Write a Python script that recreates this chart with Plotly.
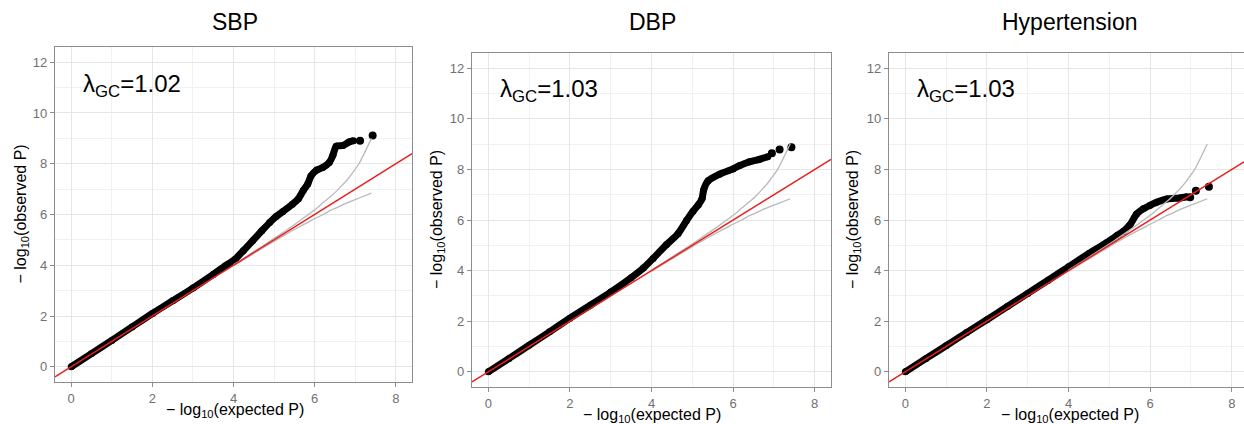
import plotly.graph_objects as go

# ---------------- data ----------------
PANEL_TITLES = ["SBP", "DBP", "Hypertension"]
LAMBDA_GC = ["1.02", "1.03", "1.03"]

SBP_EXP = [0, 0.5, 1, 1.5, 2, 2.5, 3, 3.5, 3.8, 4.05, 4.24, 4.48, 4.7, 4.89, 5.05, 5.22, 5.45, 5.6,
           5.72, 5.83, 5.91, 6.05, 6.2, 6.36, 6.45, 6.53, 6.7, 6.85, 6.96]
SBP_OBS = [0, 0.52, 1.04, 1.57, 2.1, 2.6, 3.1, 3.64, 3.98, 4.25, 4.57, 4.98, 5.36, 5.68, 5.92, 6.12,
           6.4, 6.62, 6.95, 7.2, 7.52, 7.75, 7.85, 8.05, 8.33, 8.69, 8.72, 8.86, 8.91]
SBP_TOP_EXP = [7.12, 7.43]
SBP_TOP_OBS = [8.91, 9.11]

DBP_EXP = [0, 0.5, 1, 1.5, 2, 2.5, 3, 3.5, 3.8, 4.04, 4.37, 4.65, 4.86, 5.02, 5.15, 5.24,
           5.28, 5.39, 5.67, 6.0, 6.16, 6.4, 6.65, 6.85]
DBP_OBS = [0, 0.52, 1.05, 1.58, 2.12, 2.63, 3.15, 3.72, 4.1, 4.48, 5.03, 5.46, 5.98, 6.35, 6.6, 6.85,
           7.2, 7.55, 7.81, 8.02, 8.15, 8.3, 8.4, 8.5]
DBP_TOP_EXP = [6.95, 7.14, 7.43]
DBP_TOP_OBS = [8.64, 8.79, 8.88]

HTN_EXP = [0, 0.5, 1, 1.5, 2, 2.5, 3, 3.5, 4, 4.5, 4.93, 5.2, 5.34, 5.5, 5.67, 5.83, 6.0,
           6.16, 6.41, 6.73, 6.9]
HTN_OBS = [0, 0.52, 1.03, 1.55, 2.06, 2.58, 3.1, 3.62, 4.15, 4.68, 5.1, 5.4, 5.55, 5.8, 6.24,
           6.44, 6.58, 6.70, 6.83, 6.87, 6.92]
HTN_TOP_EXP = [6.98, 7.12, 7.44]
HTN_TOP_OBS = [6.90, 7.16, 7.31]

# 95% confidence band (same in every panel)
CI_EXP = [4.0, 4.4, 4.7, 5.1, 5.4, 5.7, 5.92, 6.1, 6.22, 6.4, 6.56, 6.7, 6.8, 6.92, 7.1, 7.4]
CI_UPPER = [4.02, 4.43, 4.74, 5.16, 5.49, 5.83, 6.09, 6.31, 6.48, 6.72, 6.95, 7.19, 7.36, 7.61, 8.02, 9.0]
CI_LOWER = [3.98, 4.37, 4.66, 5.04, 5.32, 5.58, 5.77, 5.91, 6.01, 6.17, 6.28, 6.39, 6.46, 6.54, 6.65, 6.84]

X_TICKS = [0, 2, 4, 6, 8]
Y_TICKS = [0, 2, 4, 6, 8, 10, 12]

PANELS = [
    (SBP_EXP, SBP_OBS, SBP_TOP_EXP, SBP_TOP_OBS),
    (DBP_EXP, DBP_OBS, DBP_TOP_EXP, DBP_TOP_OBS),
    (HTN_EXP, HTN_OBS, HTN_TOP_EXP, HTN_TOP_OBS),
]

# ---------------- layout geometry ----------------
W, H = 1244, 424
FONT = "Liberation Sans, Arial, sans-serif"
# pixel boxes of the panels: (left, right, top, bottom)
BOXES = [(55, 412, 47, 382), (472, 831, 53, 387), (889, 1244, 53, 387)]
X_RANGES = [[-0.4, 8.4], [-0.4, 8.4], [-0.4, 8.3]]
Y_RANGE = [-0.6, 12.6]
TITLE_CX = [235, 652, 1070]
XTITLE_Y = [410, 415, 415]
YTITLE_X = [21, 437, 853]

BORDER = "#8c8c8c"
fig = go.Figure()
layout = dict(width=W, height=H, margin=dict(l=0, r=0, t=0, b=0),
              paper_bgcolor="white", plot_bgcolor="white", showlegend=False,
              font=dict(family=FONT))
annotations = []

for i, (ex, ob, tex, tob) in enumerate(PANELS):
    n = "" if i == 0 else str(i + 1)
    xa, ya = "x" + n, "y" + n
    l, r, t, b = BOXES[i]
    common = dict(showgrid=True, gridcolor="#e6e6e6", gridwidth=1.1, zeroline=False,
                  showline=True, linecolor=BORDER, linewidth=1.3,
                  ticks="outside", ticklen=4, tickcolor=BORDER, tickwidth=1.2,
                  tickfont=dict(size=13, color="#707070", family=FONT),
                  minor=dict(dtick=1, tick0=0, showgrid=True, gridcolor="#f1f1f1", gridwidth=0.8),
                  fixedrange=True)
    layout["xaxis" + n] = dict(common, domain=[l / W, r / W], range=X_RANGES[i],
                               tickvals=X_TICKS, dtick=2, tick0=0, anchor=ya, mirror=True)
    layout["yaxis" + n] = dict(common, domain=[1 - b / H, 1 - t / H], range=Y_RANGE,
                               tickvals=Y_TICKS, dtick=2, tick0=0, anchor=xa,
                               mirror=(i < 2))

    # observed points (dense part drawn as a thick band of points)
    fig.add_trace(go.Scatter(x=ex, y=ob, mode="lines+markers", xaxis=xa, yaxis=ya,
                             line=dict(color="black", width=7, shape="spline", smoothing=0.6),
                             marker=dict(color="black", size=7), hoverinfo="skip"))
    fig.add_trace(go.Scatter(x=tex, y=tob, mode="markers", xaxis=xa, yaxis=ya,
                             marker=dict(color="black", size=8), hoverinfo="skip"))
    # confidence curves
    fig.add_trace(go.Scatter(x=CI_EXP, y=CI_UPPER, mode="lines", xaxis=xa, yaxis=ya,
                             line=dict(color="#b9b9b9", width=1.3, shape="spline", smoothing=0.5),
                             hoverinfo="skip"))
    fig.add_trace(go.Scatter(x=CI_EXP, y=CI_LOWER, mode="lines", xaxis=xa, yaxis=ya,
                             line=dict(color="#b9b9b9", width=1.3, shape="spline", smoothing=0.5),
                             hoverinfo="skip"))
    # identity line y = x across the panel
    xr = X_RANGES[i]
    fig.add_trace(go.Scatter(x=[xr[0], xr[1]], y=[xr[0], xr[1]], mode="lines",
                             xaxis=xa, yaxis=ya, line=dict(color="#e8201f", width=1.5),
                             hoverinfo="skip"))

    # lambda label
    annotations.append(dict(xref=xa, yref=ya, x=0.24, y=11.1, xanchor="left", yanchor="middle",
                            text="λ<sub>GC</sub>=" + LAMBDA_GC[i], showarrow=False,
                            font=dict(size=24, color="black", family=FONT)))
    # panel title
    annotations.append(dict(xref="paper", yref="paper", x=TITLE_CX[i] / W, y=1 - 22 / H,
                            xanchor="center", yanchor="middle", text=PANEL_TITLES[i],
                            showarrow=False, font=dict(size=23, color="black", family=FONT)))
    # axis titles
    annotations.append(dict(xref="paper", yref="paper", x=TITLE_CX[i] / W, y=1 - XTITLE_Y[i] / H,
                            xanchor="center", yanchor="middle",
                            text="− log<sub>10</sub>(expected P)", showarrow=False,
                            font=dict(size=16, color="black", family=FONT)))
    annotations.append(dict(xref="paper", yref="paper", x=YTITLE_X[i] / W, y=1 - ((t + b) / 2) / H,
                            xanchor="center", yanchor="middle", textangle=-90,
                            text="− log<sub>10</sub>(observed P)", showarrow=False,
                            font=dict(size=16, color="black", family=FONT)))

layout["annotations"] = annotations
fig.update_layout(**layout)
fig.write_html("out.html")
